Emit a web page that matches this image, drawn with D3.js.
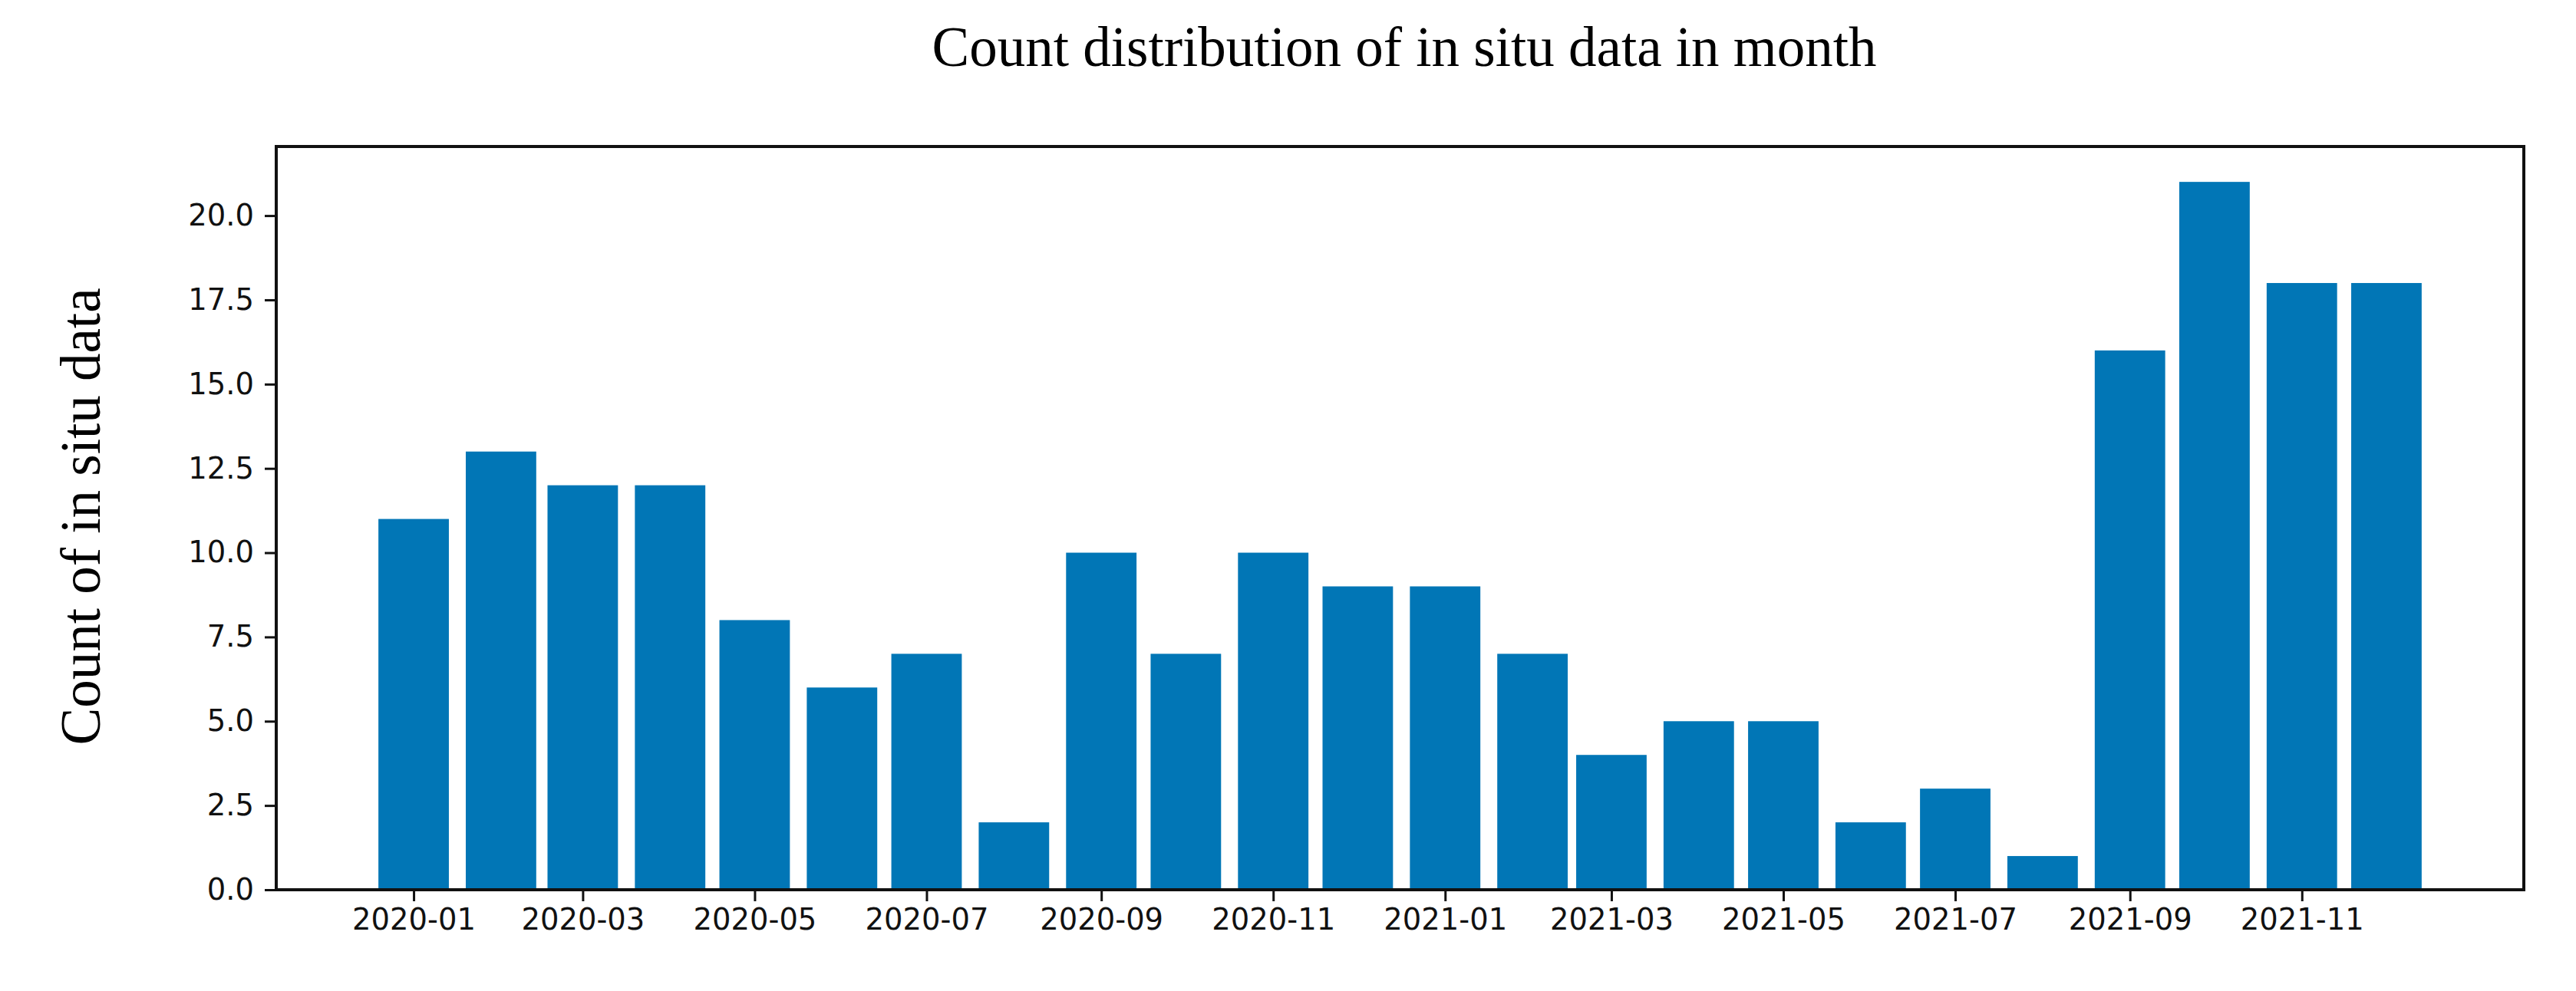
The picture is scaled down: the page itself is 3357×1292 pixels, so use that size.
<!DOCTYPE html>
<html>
<head>
<meta charset="utf-8">
<script src="https://cdn.jsdelivr.net/npm/d3@7"></script>
<style>
  body { margin: 0; background: #fff; }
  svg { display: block; }
</style>
</head>
<body>
<div id="chart"></div>
<script>
const months = ["2020-01","2020-02","2020-03","2020-04","2020-05","2020-06","2020-07","2020-08","2020-09","2020-10","2020-11","2020-12",
                "2021-01","2021-02","2021-03","2021-04","2021-05","2021-06","2021-07","2021-08","2021-09","2021-10","2021-11","2021-12"]
const counts = [11,13,12,12,8,6,7,2,10,7,10,9,9,7,4,5,5,2,3,1,16,21,18,18]
const xTickLabels = ["2020-01","2020-03","2020-05","2020-07","2020-09","2020-11","2021-01","2021-03","2021-05","2021-07","2021-09","2021-11"]
const yTicks = [0,2.5,5,7.5,10,12.5,15,17.5,20]

const width = 3357, height = 1292
const margin = { top: 191, right: 68, bottom: 132, left: 360 }
const innerW = width - margin.left - margin.right
const innerH = height - margin.top - margin.bottom

const parse = d3.timeParse("%Y-%m")
const dayMs = 864e5
const barDays = 25

const data = months.map((m, i) => ({ date: parse(m), value: counts[i] }))

// matplotlib style 5% padding around the bars
const first = +data[0].date - barDays / 2 * dayMs
const last = +data[data.length - 1].date + barDays / 2 * dayMs
const pad = (last - first) * 0.05

const x = d3.scaleTime()
  .domain([new Date(first - pad), new Date(last + pad)])
  .range([0, innerW])

const yMax = d3.max(counts) * 1.05
const y = d3.scaleLinear()
  .domain([0, yMax])
  .range([innerH, 0])

const svg = d3.select("#chart")
  .append("svg")
  .attr("width", width)
  .attr("height", height)

const g = svg.append("g")
  .attr("transform", `translate(${margin.left},${margin.top})`)

// Bars
g.selectAll(".bar")
  .data(data)
  .enter()
  .append("rect")
  .attr("class", "bar")
  .attr("x", d => x(new Date(+d.date - barDays / 2 * dayMs)))
  .attr("width", d => x(new Date(+d.date + barDays / 2 * dayMs)) - x(new Date(+d.date - barDays / 2 * dayMs)))
  .attr("y", d => y(d.value))
  .attr("height", d => innerH - y(d.value))
  .style("fill", "#0176b6")

// Axes
const xAxis = d3.axisBottom(x)
  .tickValues(xTickLabels.map(parse))
  .tickFormat(d3.timeFormat("%Y-%m"))
  .tickSize(15)
  .tickPadding(10)

const yAxis = d3.axisLeft(y)
  .tickValues(yTicks)
  .tickFormat(d3.format(".1f"))
  .tickSize(15)
  .tickPadding(14)

const gx = g.append("g")
  .attr("transform", `translate(0,${innerH})`)
  .call(xAxis)

const gy = g.append("g").call(yAxis)

;[gx, gy].forEach(a => {
  a.select(".domain").remove()
  a.selectAll(".tick line").style("stroke", "#111").style("stroke-width", 3)
  a.selectAll(".tick text")
    .style("font-family", "'DejaVu Sans', sans-serif")
    .style("font-size", "38.5px")
    .style("fill", "#111")
})

// Frame
g.append("rect")
  .attr("x", 0)
  .attr("y", 0)
  .attr("width", innerW)
  .attr("height", innerH)
  .style("fill", "none")
  .style("stroke", "#111")
  .style("stroke-width", 4)

// Title
svg.append("text")
  .attr("x", 1830)
  .attr("y", 86)
  .attr("text-anchor", "middle")
  .text("Count distribution of in situ data in month")
  .style("font-family", "'Liberation Serif', 'Times New Roman', serif")
  .style("font-size", "73px")
  .style("fill", "#000")

// Y label
svg.append("text")
  .attr("transform", `translate(130,${margin.top + innerH / 2 - 2}) rotate(-90)`)
  .attr("text-anchor", "middle")
  .text("Count of in situ data")
  .style("font-family", "'Liberation Serif', 'Times New Roman', serif")
  .style("font-size", "73px")
  .style("fill", "#000")
</script>
</body>
</html>
